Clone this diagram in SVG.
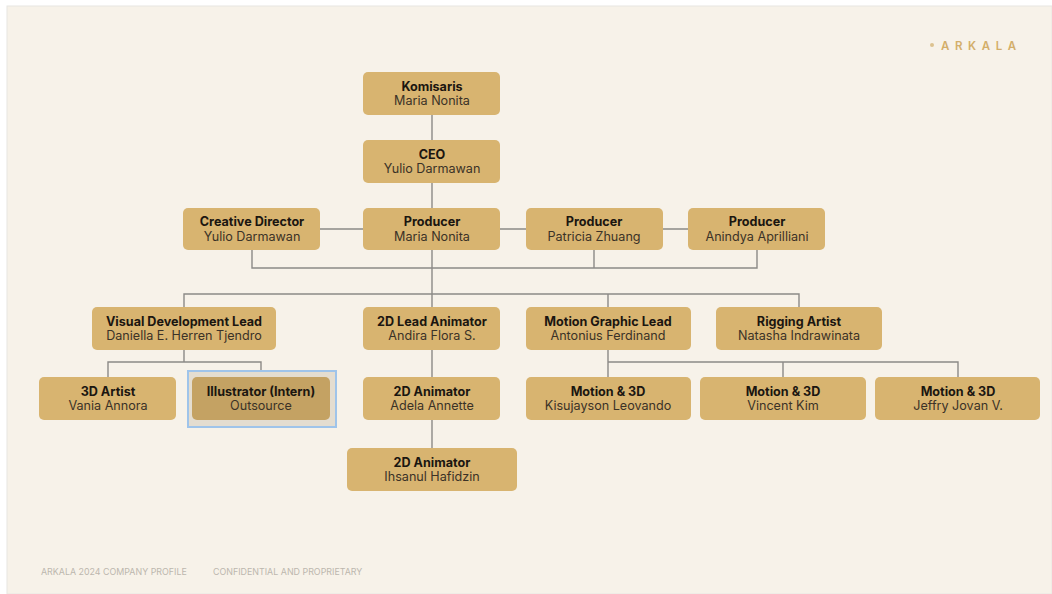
<svg xmlns="http://www.w3.org/2000/svg" width="1052" height="594" viewBox="0 0 1052 594">
<style>
.box{fill:#d8b470}
.t{font-family:Inter,"Open Sans",sans-serif;font-size:12.6px;font-weight:700;fill:#1b1610;text-anchor:middle}
.n{font-family:Inter,"Open Sans",sans-serif;font-size:12.6px;font-weight:400;fill:#3b3227;text-anchor:middle}
.c{fill:none;stroke:#8c8a86;stroke-width:1.4}
.f{font-family:Inter,"Open Sans",sans-serif;font-size:8.9px;fill:#bcb7ae}
</style>
<rect x="0" y="0" width="1052" height="594" fill="#ffffff"/>
<rect x="7" y="6" width="1045" height="588" fill="#f7f2e9" stroke="#e8e6e2" stroke-width="1"/>
<g id="logo">
<circle cx="932" cy="45" r="2" fill="#dcc28f"/>
<text x="941" y="50" font-family="Inter,'Open Sans',sans-serif" font-size="11.5" font-weight="600" fill="#d3ae69" letter-spacing="5.6">ARKALA</text>
</g>
<g id="connectors">
<path class="c" d="M432 115V140M432 183V208M320 229H363M500 229H526M663 229H688"/>
<path class="c" d="M252 250V268H757V250M432 250V307M594 250V268"/>
<path class="c" d="M184 307V294H799V307M608 294V307"/>
<path class="c" d="M184 350V362M108 377V362H261V377"/>
<path class="c" d="M432 350V377M432 420V448"/>
<path class="c" d="M608 350V377M608 362H958V377M783 362V377"/>
</g>
<g id="komisaris"><rect class="box" x="363" y="72" width="137" height="43" rx="5"/><text class="t" x="432" y="91">Komisaris</text><text class="n" x="432" y="105">Maria Nonita</text></g>
<g id="ceo"><rect class="box" x="363" y="140" width="137" height="43" rx="5"/><text class="t" x="432" y="159">CEO</text><text class="n" x="432" y="173">Yulio Darmawan</text></g>
<g id="creative-director"><rect class="box" x="183" y="208" width="137" height="42" rx="5"/><text class="t" x="252" y="226">Creative Director</text><text class="n" x="252" y="241">Yulio Darmawan</text></g>
<g id="producer-maria"><rect class="box" x="363" y="208" width="137" height="42" rx="5"/><text class="t" x="432" y="226">Producer</text><text class="n" x="432" y="241">Maria Nonita</text></g>
<g id="producer-patricia"><rect class="box" x="526" y="208" width="137" height="42" rx="5"/><text class="t" x="594" y="226">Producer</text><text class="n" x="594" y="241">Patricia Zhuang</text></g>
<g id="producer-anindya"><rect class="box" x="688" y="208" width="137" height="42" rx="5"/><text class="t" x="757" y="226">Producer</text><text class="n" x="757" y="241">Anindya Aprilliani</text></g>
<g id="vdl"><rect class="box" x="92" y="307" width="184" height="43" rx="5"/><text class="t" x="184" y="326">Visual Development Lead</text><text class="n" x="184" y="340">Daniella E. Herren Tjendro</text></g>
<g id="lead-animator"><rect class="box" x="363" y="307" width="137" height="43" rx="5"/><text class="t" x="432" y="326">2D Lead Animator</text><text class="n" x="432" y="340">Andira Flora S.</text></g>
<g id="mg-lead"><rect class="box" x="526" y="307" width="165" height="43" rx="5"/><text class="t" x="608" y="326">Motion Graphic Lead</text><text class="n" x="608" y="340">Antonius Ferdinand</text></g>
<g id="rigging"><rect class="box" x="716" y="307" width="166" height="43" rx="5"/><text class="t" x="799" y="326">Rigging Artist</text><text class="n" x="799" y="340">Natasha Indrawinata</text></g>
<g id="artist-3d"><rect class="box" x="39" y="377" width="137" height="43" rx="5"/><text class="t" x="108" y="396">3D Artist</text><text class="n" x="108" y="410">Vania Annora</text></g>
<g id="illustrator"><rect x="188" y="371" width="148" height="56" fill="#e4ddd0" stroke="#9fc4ea" stroke-width="2"/><rect x="192" y="377" width="138" height="43" rx="5" fill="#c4a263"/><text class="t" x="261" y="396">Illustrator (Intern)</text><text class="n" x="261" y="410">Outsource</text></g>
<g id="animator-adela"><rect class="box" x="363" y="377" width="137" height="43" rx="5"/><text class="t" x="432" y="396">2D Animator</text><text class="n" x="432" y="410">Adela Annette</text></g>
<g id="animator-ihsanul"><rect class="box" x="347" y="448" width="170" height="43" rx="5"/><text class="t" x="432" y="467">2D Animator</text><text class="n" x="432" y="481">Ihsanul Hafidzin</text></g>
<g id="m3d-kisu"><rect class="box" x="526" y="377" width="165" height="43" rx="5"/><text class="t" x="608" y="396">Motion &amp; 3D</text><text class="n" x="608" y="410">Kisujayson Leovando</text></g>
<g id="m3d-vincent"><rect class="box" x="700" y="377" width="166" height="43" rx="5"/><text class="t" x="783" y="396">Motion &amp; 3D</text><text class="n" x="783" y="410">Vincent Kim</text></g>
<g id="m3d-jeffry"><rect class="box" x="875" y="377" width="165" height="43" rx="5"/><text class="t" x="958" y="396">Motion &amp; 3D</text><text class="n" x="958" y="410">Jeffry Jovan V.</text></g>
<g id="footer">
<text class="f" x="41" y="575">ARKALA 2024 COMPANY PROFILE</text>
<text class="f" x="213" y="575">CONFIDENTIAL AND PROPRIETARY</text>
</g>
</svg>
